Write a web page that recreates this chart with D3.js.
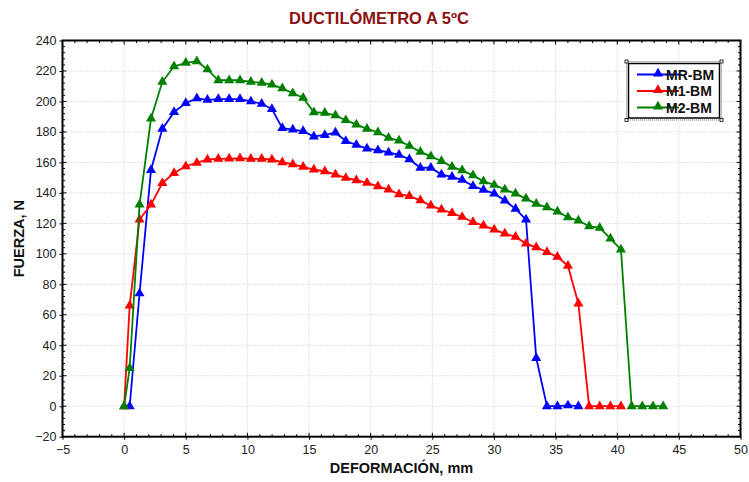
<!DOCTYPE html>
<html>
<head>
<meta charset="utf-8">
<script src="https://cdn.jsdelivr.net/npm/d3@7"></script>
<style>
  html, body { margin: 0; padding: 0; background: #fff; }
  svg { display: block; font-family: Arial, "Liberation Sans", sans-serif; }
</style>
</head>
<body>
<svg id="chart" width="749" height="482"></svg>
<script>
// ---- Data ----
const deformation = [0, 0.45, 1.25, 2.18, 3.10, 4.05, 5.00, 5.90, 6.76, 7.64, 8.52, 9.40, 10.28, 11.16, 11.99, 12.83,
  13.68, 14.52, 15.39, 16.28, 17.14, 17.98, 18.84, 19.70, 20.59, 21.45, 22.30, 23.14, 24.03, 24.88, 25.74,
  26.60, 27.42, 28.30, 29.15, 30.02, 30.88, 31.75, 32.60, 33.43, 34.30, 35.15, 36.00, 36.85, 37.72, 38.58,
  39.45, 40.30, 41.17, 42.03, 42.90, 43.73];

const mrBM = [null, 0, 74, 155, 182, 193, 199, 202, 201, 201.5, 201.5, 201.5, 200, 198.5, 195, 182.5,
  181.5, 180.5, 177, 178, 179.5, 174, 171.5, 169, 168, 166.5, 165, 162, 156.5, 156.5, 152,
  150.5, 148.5, 144.5, 142, 139.5, 135, 129.5, 122.5, 31.6, 0, 0, 0.5, 0];

const m1BM = [0, 66, 122.5, 132.3, 146.5, 153, 157.5, 159.7, 161.9, 162.3, 162.5, 162.7, 162.4, 162.3, 161.9, 160.1,
  158.7, 157.1, 155.3, 154.2, 152, 149.8, 148.3, 146.6, 144.3, 142.2, 139.1, 137.9, 135.1, 131.6, 129,
  126.8, 124.2, 120.9, 118.5, 115.9, 113.3, 111.1, 106.7, 104.3, 101.2, 98, 92.2, 67.3, 0, 0,
  0, 0];

const m2BM = [0, 25, 132.3, 188.8, 212.9, 223, 225.3, 226.4, 221, 213.9, 213.9, 213.9, 212.9, 212.2, 211.1, 208.6,
  205.4, 202.4, 192.9, 192.5, 190.9, 187.7, 184.8, 182, 179.8, 176.1, 174.3, 170.8, 166.9, 164, 160.9,
  157.1, 154.8, 151.5, 147.6, 145.2, 142.2, 139.5, 136.2, 132.8, 130.5, 127.7, 124, 121.8, 118.1, 117,
  110, 102.8, 0, 0, 0, 0];

const seriesNames = ["MR-BM", "M1-BM", "M2-BM"];
const seriesValues = [mrBM, m1BM, m2BM];
const seriesColors = ["#0000ff", "#ff0000", "#008000"];

const xTicks = [-5, 0, 5, 10, 15, 20, 25, 30, 35, 40, 45, 50];
const yTicks = [-20, 0, 20, 40, 60, 80, 100, 120, 140, 160, 180, 200, 220, 240];

const titleText = "DUCTILÓMETRO A 5ºC";
const xTitle = "DEFORMACIÓN, mm";
const yTitle = "FUERZA, N";

// ---- Layout ----
const svg = d3.select("#chart");
const L = 62.5, R = 740.5, T = 40.5, B = 436.7;

const x = d3.scaleLinear().domain([-5, 50]).range([L, R]);
const y = d3.scaleLinear().domain([-20, 240]).range([B, T]);

// gridlines
const grid = svg.append("g");
grid.selectAll("line.gx").data(xTicks.slice(1, -1)).join("line")
  .attr("x1", d => x(d)).attr("x2", d => x(d)).attr("y1", T).attr("y2", B)
  .attr("stroke", "#c4c4c4").attr("stroke-width", 1).attr("stroke-dasharray", "1,2");
grid.selectAll("line.gy").data(yTicks.slice(1, -1)).join("line")
  .attr("y1", d => y(d)).attr("y2", d => y(d)).attr("x1", L).attr("x2", R)
  .attr("stroke", "#c4c4c4").attr("stroke-width", 1).attr("stroke-dasharray", "1,2");

// minor ticks (inside) on all sides
const xMinor = d3.range(-5, 50.01, 1);
const yMinor = d3.range(-20, 240.01, 4);
const ticks = svg.append("g").attr("stroke", "#000").attr("stroke-width", 1);
[B, T].forEach((yy, k) => {
  ticks.append("g").selectAll("line").data(xMinor).join("line")
    .attr("x1", d => x(d)).attr("x2", d => x(d))
    .attr("y1", yy).attr("y2", d => yy + (k === 0 ? -1 : 1) * (d % 5 === 0 ? 4 : 2.5));
});
[L, R].forEach((xx, k) => {
  ticks.append("g").selectAll("line").data(yMinor).join("line")
    .attr("y1", d => y(d)).attr("y2", d => y(d))
    .attr("x1", xx).attr("x2", d => xx + (k === 0 ? 1 : -1) * (d % 20 === 0 ? 4 : 2.5));
});

// axes with D3 (outer major ticks + labels)
const xAxis = d3.axisBottom(x).tickValues(xTicks).tickSize(3).tickPadding(5).tickFormat(d3.format("d"));
const yAxis = d3.axisLeft(y).tickValues(yTicks).tickSize(3).tickPadding(3).tickFormat(d3.format("d"));
const gx = svg.append("g").attr("transform", `translate(0,${B})`).call(xAxis);
const gy = svg.append("g").attr("transform", `translate(${L},0)`).call(yAxis);
[gx, gy].forEach(g => {
  g.select(".domain").remove();
  g.selectAll("text").attr("font-size", 12.5).attr("fill", "#222")
    .attr("font-family", "Arial, 'Liberation Sans', sans-serif");
  g.selectAll("line").attr("stroke", "#000");
});

// frame
svg.append("rect").attr("x", L).attr("y", T).attr("width", R - L).attr("height", B - T)
  .attr("fill", "none").attr("stroke", "#000").attr("stroke-width", 2);

// series
const tri = d3.symbol().type(d3.symbolTriangle).size(44);
seriesValues.forEach((vals, si) => {
  const pts = vals.map((v, i) => ({ x: deformation[i], y: v })).filter(p => p.y !== null);
  const line = d3.line().x(p => x(p.x)).y(p => y(p.y));
  const g = svg.append("g");
  g.append("path").datum(pts).attr("d", line)
    .attr("fill", "none").attr("stroke", seriesColors[si]).attr("stroke-width", 1.8);
  g.selectAll("path.m").data(pts).join("path").attr("class", "m")
    .attr("d", tri).attr("transform", p => `translate(${x(p.x)},${y(p.y)})`)
    .attr("fill", seriesColors[si]);
});

// legend
const lg = svg.append("g");
const lx0 = 627.5, ly0 = 62.5, lw = 93, lh = 56.5;
lg.append("rect").attr("x", lx0 - 1).attr("y", ly0 - 1).attr("width", lw + 2).attr("height", lh + 2)
  .attr("fill", "#fff").attr("stroke", "#777").attr("stroke-width", 1).attr("stroke-dasharray", "1,1");
lg.append("rect").attr("x", lx0 + 1).attr("y", ly0 + 1).attr("width", lw - 2).attr("height", lh - 2)
  .attr("fill", "#fff").attr("stroke", "#000").attr("stroke-width", 1.5);
[[lx0 - 1, ly0 - 1], [lx0 + lw + 1, ly0 - 1], [lx0 - 1, ly0 + lh + 1], [lx0 + lw + 1, ly0 + lh + 1]].forEach(c => {
  lg.append("rect").attr("x", c[0] - 1.5).attr("y", c[1] - 1.5).attr("width", 3).attr("height", 3)
    .attr("fill", "#fff").attr("stroke", "#000").attr("stroke-width", 0.8);
});
seriesNames.forEach((name, i) => {
  const yy = 74.5 + i * 16.5;
  lg.append("line").attr("x1", 637).attr("x2", 679).attr("y1", yy).attr("y2", yy)
    .attr("stroke", seriesColors[i]).attr("stroke-width", 1.8);
  lg.append("path").attr("d", tri).attr("transform", `translate(658,${yy - 1})`).attr("fill", seriesColors[i]);
  lg.append("text").attr("x", 666).attr("y", yy + 5).attr("font-size", 14).attr("font-weight", "bold")
    .attr("fill", "#111").text(name);
});

// titles
svg.append("text").attr("x", 379).attr("y", 24).attr("text-anchor", "middle")
  .attr("font-size", 16.5).attr("font-weight", "bold").attr("fill", "#8b1010").text(titleText);
svg.append("text").attr("x", (L + R) / 2).attr("y", 473).attr("text-anchor", "middle")
  .attr("font-size", 14.5).attr("font-weight", "bold").attr("fill", "#111").text(xTitle);
svg.append("text").attr("transform", `translate(24,${(T + B) / 2}) rotate(-90)`).attr("text-anchor", "middle")
  .attr("font-size", 14.5).attr("font-weight", "bold").attr("fill", "#111").text(yTitle);
</script>
</body>
</html>
